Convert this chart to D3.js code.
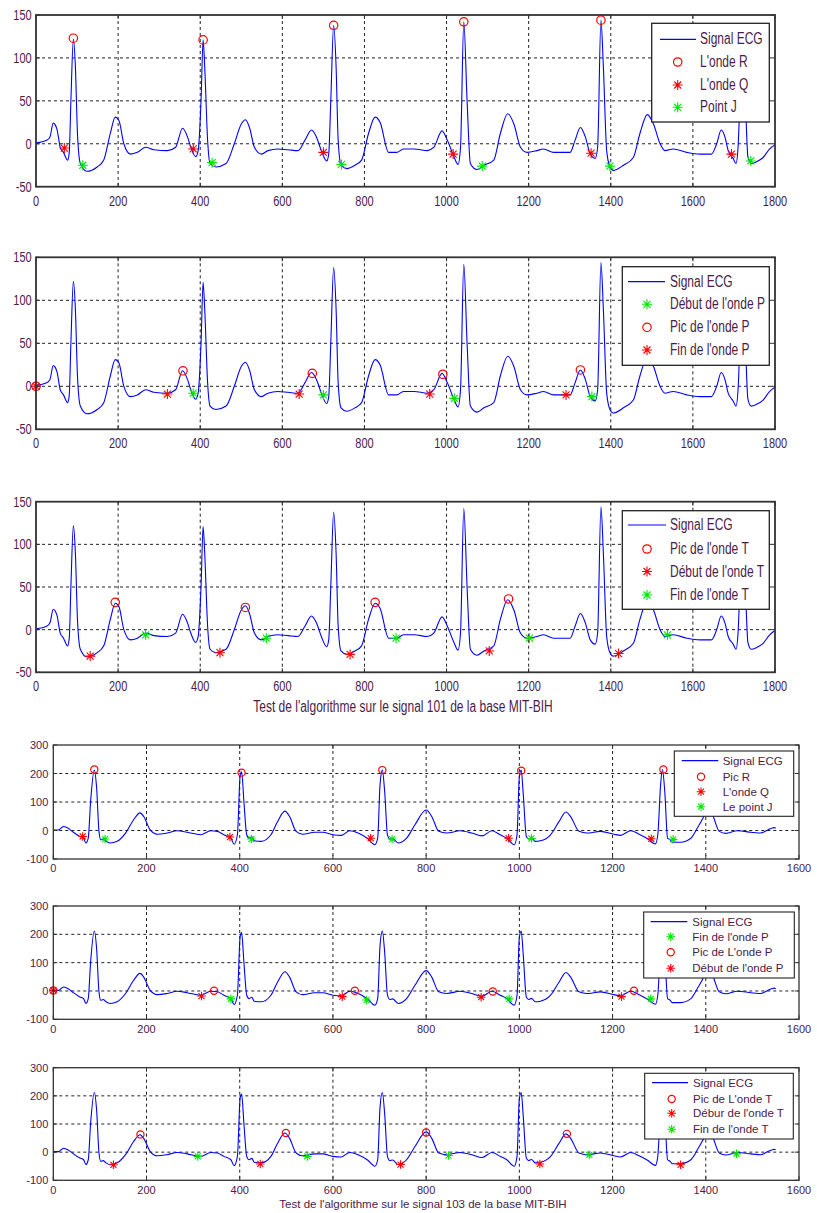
<!DOCTYPE html>
<html><head><meta charset="utf-8">
<script src="https://cdn.jsdelivr.net/npm/d3@7"></script>
<style>body{margin:0;background:#fff}svg{display:block}text{font-family:"Liberation Sans",Arial,sans-serif}</style>
</head><body><svg id="c" width="817" height="1213"></svg>
<script>
// ---------- DATA ----------
const signal101 = [[0,1],[26,4],[34,8],[42,24],[51,17],[59,-4],[67,-10],[77,-19],[81,-10],[85,50],[91,122],[96,89],[101,12],[108,-23],[124,-32],[149,-27],[165,-19],[181,12],[193,31],[202,27],[214,0],[230,-12],[247,-10],[267,-4],[287,-7],[320,-8],[340,-4],[357,18],[369,8],[377,-4],[389,-15],[395,-8],[402,50],[407,121],[411,89],[418,4],[424,-23],[438,-27],[463,-23],[483,0],[500,23],[510,28],[520,19],[532,-4],[549,-12],[565,-8],[589,-6],[614,-7],[638,-8],[655,4],[671,16],[683,8],[695,-8],[708,-20],[713,-12],[718,50],[725,138],[731,89],[736,4],[743,-25],[757,-29],[777,-25],[793,-19],[810,12],[826,31],[838,25],[859,-10],[879,-10],[895,-6],[921,-6],[953,-8],[969,-4],[989,15],[1002,4],[1018,-15],[1028,-24],[1034,-4],[1042,142],[1050,50],[1058,-23],[1074,-30],[1091,-25],[1115,-19],[1131,12],[1149,35],[1164,23],[1180,-4],[1196,-10],[1220,-8],[1236,-6],[1261,-10],[1301,-10],[1313,4],[1326,19],[1338,8],[1350,-12],[1362,-17],[1368,-4],[1376,144],[1382,89],[1390,-8],[1398,-27],[1406,-31],[1431,-25],[1455,-16],[1471,12],[1489,34],[1504,23],[1520,0],[1532,-8],[1552,-6],[1585,-10],[1617,-12],[1645,-12],[1658,0],[1669,16],[1678,8],[1686,-8],[1698,-17],[1705,-23],[1710,-4],[1716,70],[1722,130],[1728,50],[1734,-15],[1742,-23],[1755,-21],[1771,-16],[1787,-6],[1800,-1]];

const signal103 = [[0,2],[11,2],[22,14],[32,8],[43,-6],[57,-21],[65,-27],[70,-44],[75,-27],[80,101],[88,212],[93,148],[98,-3],[102,-33],[107,-30],[113,-38],[122,-44],[137,-38],[155,-9],[172,37],[186,62],[194,49],[208,2],[223,-13],[244,-9],[266,-1],[287,-6],[316,-15],[338,-1],[352,-3],[366,-15],[381,-27],[388,-48],[395,-15],[401,194],[404,206],[409,101],[415,-15],[420,-27],[426,-22],[431,-36],[446,-38],[467,-15],[481,31],[497,68],[507,49],[521,-3],[535,-13],[561,-6],[578,-6],[600,-15],[618,-17],[636,-1],[654,-9],[675,-29],[690,-50],[696,-27],[701,159],[706,212],[711,136],[717,-15],[722,-30],[728,-28],[740,-44],[758,-27],[776,20],[800,72],[812,49],[827,-3],[844,-9],[873,-1],[898,-9],[920,-19],[941,-1],[959,-15],[973,-27],[989,-50],[995,-15],[1000,190],[1004,212],[1008,136],[1015,-21],[1020,-30],[1026,-26],[1034,-38],[1045,-36],[1067,-15],[1085,31],[1100,65],[1110,49],[1128,-3],[1145,-9],[1174,-3],[1203,-13],[1217,-17],[1239,-1],[1257,-13],[1275,-29],[1292,-47],[1297,-15],[1303,159],[1307,214],[1312,136],[1318,-27],[1323,-32],[1328,-41],[1346,-41],[1368,-27],[1386,20],[1405,65],[1414,55],[1429,-3],[1443,-10],[1468,-1],[1497,-6],[1518,-9],[1533,2],[1547,10],[1550,8]];

// Signal 101 markers
const ondeR101 = [[91,123],[407,121],[725,138],[1042,142],[1376,144]];
const ondeQ101 = [[69,-5],[383,-6],[700,-10],[1016,-12],[1352,-11],[1694,-12]];
const pointJ101 = [[114,-25],[429,-22],[744,-24],[1087,-26],[1398,-26],[1741,-20]];
const debutP101 = [[383,-8],[700,-10],[1019,-14],[1354,-12]];
const picP101 = [[0,0],[358,18],[673,15],[991,14],[1326,19]];
const finP101 = [[0,0],[320,-9],[641,-9],[959,-9],[1291,-10]];
const picT101 = [[193,32],[510,26],[826,32],[1151,36]];
const debutT101 = [[132,-31],[448,-27],[765,-29],[1104,-25],[1419,-28]];
const finT101 = [[267,-6],[561,-10],[877,-10],[1202,-10],[1538,-6]];

// Signal 103 markers
const picR103 = [[88,214],[404,203],[706,212],[1004,210],[1309,214]];
const ondeQ103 = [[63,-21],[379,-23],[681,-27],[977,-27],[1283,-29]];
const pointJ103 = [[111,-30],[425,-30],[727,-30],[1026,-28],[1330,-31]];
const finP103 = [[381,-28],[672,-32],[978,-28],[1282,-28]];
const picP103 = [[0,2],[345,1],[647,1],[943,-2],[1246,1]];
const debutP103 = [[0,2],[318,-18],[620,-20],[918,-22],[1219,-20]];
const picT103 = [[187,63],[499,68],[800,70],[1102,65]];
const debutT103 = [[129,-45],[444,-42],[745,-44],[1044,-42],[1346,-45]];
const finT103 = [[310,-15],[545,-15],[848,-12],[1150,-10],[1466,-6]];

const xTicks101 = [0,200,400,600,800,1000,1200,1400,1600,1800];
const yTicks101 = [-50,0,50,100,150];
const xTicks103 = [0,200,400,600,800,1000,1200,1400,1600];
const yTicks103 = [-100,0,100,200,300];

const xlabel101 = "Test de l'algorithme sur le signal 101 de la base MIT-BIH";
const xlabel103 = "Test de l'algorithme sur le signal 103 de la base MIT-BIH";

// ---------- STYLE / LAYOUT ----------
const RED = "#ff0000", GREEN = "#00e600", BLUE = "#0000ff", TXT = "#4a1c4a";
const svg = d3.select("#c");

const panels = [
 {sig:signal101, box:[36,15,775,186.7], xd:[0,1800], xt:xTicks101, yd:[-50,150], yt:yTicks101, st:1.3, fs:11, lfs:12, aw:1.8, ms:4.2, ss:5,
  leg:{box:[651.7,23.3,769.3,122], lx:[660,696], mx:677.7, tx:700, rows:[39.3,62,85,107.3]},
  series:[{n:"L'onde R",t:"o",c:RED,d:ondeR101},{n:"L'onde Q",t:"*",c:RED,d:ondeQ101},{n:"Point J",t:"*",c:GREEN,d:pointJ101}]},
 {sig:signal101, box:[36,257.3,775,429.3], xd:[0,1800], xt:xTicks101, yd:[-50,150], yt:yTicks101, st:1.3, fs:11, lfs:12, aw:1.8, ms:4.2, ss:5,
  leg:{box:[622.3,266.7,769.3,365.3], lx:[628,665], mx:647, tx:670, rows:[281.7,304.3,327.3,350]},
  series:[{n:"Début de l'onde P",t:"*",c:GREEN,d:debutP101},{n:"Pic de l'onde P",t:"o",c:RED,d:picP101},{n:"Fin de l'onde P",t:"*",c:RED,d:finP101}]},
 {sig:signal101, box:[36,501.7,775,672.3], xd:[0,1800], xt:xTicks101, yd:[-50,150], yt:yTicks101, st:1.3, fs:11, lfs:12, aw:1.8, ms:4.2, ss:5,
  leg:{box:[622.3,510.7,769.3,609.3], lx:[628,666], mx:647, tx:670, rows:[525,549,571.5,595]},
  series:[{n:"Pic de l'onde T",t:"o",c:RED,d:picT101},{n:"Début de l'onde T",t:"*",c:RED,d:debutT101},{n:"Fin de l'onde T",t:"*",c:GREEN,d:finT101}]},
 {sig:signal103, box:[53.3,745,799,859], xd:[0,1600], xt:xTicks103, yd:[-100,300], yt:yTicks103, st:1.0, fs:11, lfs:11.5, aw:1.3, ms:3.6, ss:4.3,
  leg:{box:[674.3,751,793.7,816.3], lx:[681.7,718.3], mx:701, tx:722.7, rows:[760.7,776.7,791.7,806.7]},
  series:[{n:"Pic R",t:"o",c:RED,d:picR103},{n:"L'onde Q",t:"*",c:RED,d:ondeQ103},{n:"Le point J",t:"*",c:GREEN,d:pointJ103}]},
 {sig:signal103, box:[53.3,906,799,1019.3], xd:[0,1600], xt:xTicks103, yd:[-100,300], yt:yTicks103, st:1.0, fs:11, lfs:11.5, aw:1.3, ms:3.6, ss:4.3,
  leg:{box:[643.7,912,794.3,978], lx:[650.7,687.3], mx:670.7, tx:692.3, rows:[921.7,936.7,952.3,968.3]},
  series:[{n:"Fin de l'onde P",t:"*",c:GREEN,d:finP103},{n:"Pic de L'onde P",t:"o",c:RED,d:picP103},{n:"Début de l'onde P",t:"*",c:RED,d:debutP103}]},
 {sig:signal103, box:[53.3,1067.7,799,1180.3], xd:[0,1600], xt:xTicks103, yd:[-100,300], yt:yTicks103, st:1.0, fs:11, lfs:11.5, aw:1.3, ms:3.6, ss:4.3,
  leg:{box:[644.7,1073.3,793.3,1139], lx:[652,688], mx:671.7, tx:693, rows:[1082.7,1099,1113.3,1129.3]},
  series:[{n:"Pic de L'onde T",t:"o",c:RED,d:picT103},{n:"Débur de l'onde T",t:"*",c:RED,d:debutT103},{n:"Fin de l'onde T",t:"*",c:GREEN,d:finT103}]}
];

function starPath(s){const d=s*0.7;return `M${-s},0H${s}M0,${-s}V${s}M${-d},${-d}L${d},${d}M${-d},${d}L${d},${-d}`;}
function drawMarker(g,t,c,x,y,r,s){
  if(t==="o") g.append("circle").attr("cx",x).attr("cy",y).attr("r",r).attr("fill","none").attr("stroke",c).attr("stroke-width",1.2);
  else g.append("path").attr("transform",`translate(${x},${y})`).attr("d",starPath(s)).attr("fill","none").attr("stroke",c).attr("stroke-width",1.1);
}
function txt(g,x,y,s,st,size,anchor){
  return g.append("text").attr("transform",`translate(${x},${y}) scale(1,${st})`).attr("font-size",size)
    .attr("fill",TXT).attr("text-anchor",anchor||"start").text(s);
}

panels.forEach((p,i)=>{
  const [L,T,R,B]=p.box;
  const x=d3.scaleLinear().domain(p.xd).range([L,R]);
  const y=d3.scaleLinear().domain(p.yd).range([B,T]);
  const g=svg.append("g");
  const gd = "3,3";
  p.xt.slice(1,-1).forEach(v=>g.append("line").attr("x1",x(v)).attr("x2",x(v)).attr("y1",T).attr("y2",B).attr("stroke","#222").attr("stroke-width",1).attr("stroke-dasharray",gd));
  p.yt.slice(1,-1).forEach(v=>g.append("line").attr("x1",L).attr("x2",R).attr("y1",y(v)).attr("y2",y(v)).attr("stroke","#222").attr("stroke-width",1).attr("stroke-dasharray",gd));
  const clipId="clip"+i;
  svg.append("clipPath").attr("id",clipId).append("rect").attr("x",L).attr("y",T).attr("width",R-L).attr("height",B-T);
  g.append("path").datum(p.sig).attr("clip-path",`url(#${clipId})`)
    .attr("d",d3.line().x(d=>x(d[0])).y(d=>y(d[1])).curve(d3.curveMonotoneX))
    .attr("fill","none").attr("stroke",BLUE).attr("stroke-width",1.1);
  p.series.forEach(s=>s.d.forEach(d=>drawMarker(g,s.t,s.c,x(d[0]),y(d[1]),p.ms,p.ss)));
  g.append("rect").attr("x",L).attr("y",T).attr("width",R-L).attr("height",B-T).attr("fill","none").attr("stroke","#333").attr("stroke-width",p.aw);
  const tl=4;
  p.xt.forEach(v=>{
    g.append("line").attr("x1",x(v)).attr("x2",x(v)).attr("y1",B).attr("y2",B-tl).attr("stroke","#333");
    g.append("line").attr("x1",x(v)).attr("x2",x(v)).attr("y1",T).attr("y2",T+tl).attr("stroke","#333");
    const by = p.st>1 ? B+19 : B+13.3;
    txt(g,x(v),by,String(v),p.st,p.fs,"middle");
  });
  p.yt.forEach(v=>{
    g.append("line").attr("x1",L).attr("x2",L+tl).attr("y1",y(v)).attr("y2",y(v)).attr("stroke","#333");
    g.append("line").attr("x1",R).attr("x2",R-tl).attr("y1",y(v)).attr("y2",y(v)).attr("stroke","#333");
    const rx = p.st>1 ? L-4.3 : L-5;
    txt(g,rx,y(v)+(p.st>1?5:4),String(v),p.st,p.fs,"end");
  });
  const lg=p.leg, [a,b,c,d]=lg.box;
  g.append("rect").attr("x",a).attr("y",b).attr("width",c-a).attr("height",d-b).attr("fill","#fff").attr("stroke","#222").attr("stroke-width",p.st>1?1.3:1.1);
  g.append("line").attr("x1",lg.lx[0]).attr("x2",lg.lx[1]).attr("y1",lg.rows[0]).attr("y2",lg.rows[0]).attr("stroke",BLUE).attr("stroke-width",1.2);
  const off = p.st>1?5:4;
  txt(g,lg.tx,lg.rows[0]+off,"Signal ECG",p.st,p.lfs);
  p.series.forEach((s,k)=>{
    drawMarker(g,s.t,s.c,lg.mx,lg.rows[k+1],p.ms,p.ss);
    txt(g,lg.tx,lg.rows[k+1]+off,s.n,p.st,p.lfs);
  });
});
txt(svg,403,711.5,xlabel101,1.3,12,"middle");
txt(svg,423,1207.5,xlabel103,1,11.5,"middle");
</script></body></html>
